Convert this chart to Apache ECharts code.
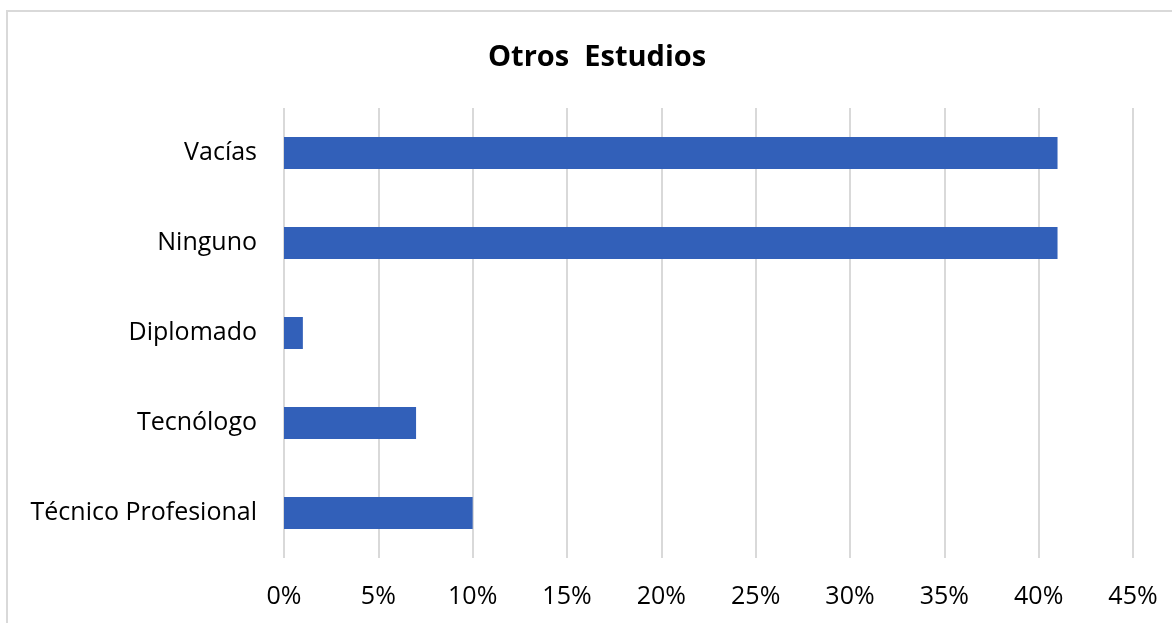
<!DOCTYPE html>
<html>
<head>
<meta charset="utf-8">
<script src="https://cdn.jsdelivr.net/npm/echarts@6/dist/echarts.min.js"></script>
<style>
  html, body { margin: 0; padding: 0; background: #fff; }
  #frame {
    position: absolute; left: 6px; top: 10px; width: 1200px; height: 700px;
    border-left: 2px solid #d9d9d9; border-top: 2px solid #d9d9d9;
  }
  #main { position: absolute; left: 0; top: 0; width: 1172px; height: 623px; }
</style>
</head>
<body>
<div id="frame"></div>
<div id="main"></div>
<script>
  const categories = ['Técnico Profesional', 'Tecnólogo', 'Diplomado', 'Ninguno', 'Vacías'];
  const values = [10, 7, 1, 41, 41];

  const myChart = echarts.init(document.getElementById('main'));

  const option = {
    textStyle: { fontFamily: 'Open Sans' },
    title: {
      text: 'Otros  Estudios',
      left: 483,
      top: 38,
      textStyle: { fontFamily: 'Open Sans', fontSize: 29, fontWeight: 'bold', color: '#000' },
    },
    grid: { left: 284, right: 39, top: 108, bottom: 65 },
    xAxis: {
      type: 'value',
      min: 0,
      max: 45,
      interval: 5,
      axisLine: { show: false },
      axisTick: { show: false },
      axisLabel: {
        formatter: '{value}%',
        fontSize: 25,
        color: '#000',
        margin: 26,
        fontFamily: 'Open Sans',
      },
      splitLine: { lineStyle: { color: '#d9d9d9', width: 2 } },
    },
    yAxis: {
      type: 'category',
      data: categories,
      axisLine: { show: false },
      axisTick: { show: false },
      axisLabel: { fontSize: 25, color: '#000', margin: 27, fontFamily: 'Open Sans' },
    },
    series: [
      {
        type: 'bar',
        data: values,
        barWidth: 32,
        itemStyle: { color: '#3260b9' },
      },
    ],
  };

  myChart.setOption(option);
</script>
</body>
</html>
